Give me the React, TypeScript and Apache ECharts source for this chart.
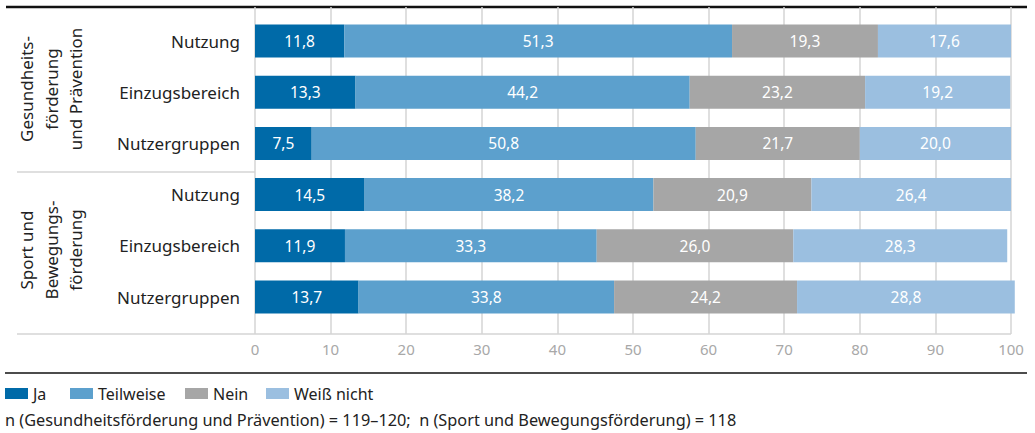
import React, { useEffect, useRef } from "react";
import * as echarts from "echarts";

const categories = ["Nutzung", "Einzugsbereich", "Nutzergruppen", "Nutzung", "Einzugsbereich", "Nutzergruppen"];
const groupLabels = ["Gesundheits-\nförderung\nund Prävention", "Sport und\nBewegungs-\nförderung"];
const seriesNames = ["Ja", "Teilweise", "Nein", "Weiß nicht"];
const ja = [11.8, 13.3, 7.5, 14.5, 11.9, 13.7];
const teilweise = [51.3, 44.2, 50.8, 38.2, 33.3, 33.8];
const nein = [19.3, 23.2, 21.7, 20.9, 26.0, 24.2];
const weissNicht = [17.6, 19.2, 20.0, 26.4, 28.3, 28.8];
const xTicks = [0, 10, 20, 30, 40, 50, 60, 70, 80, 90, 100];
const footnote = "n (Gesundheitsförderung und Prävention) = 119–120;  n (Sport und Bewegungsförderung) = 118";

const colors = ["#006aa8", "#5ca0cd", "#a6a6a6", "#9bbfe0"];
const FONT = "'Noto Sans', Roboto, sans-serif";

export default function App() {
  const ref = useRef<HTMLDivElement>(null);
  useEffect(() => {
    if (!ref.current) return;
    const chart = echarts.init(ref.current, null, { renderer: "svg" });
    const values = [ja, teilweise, nein, weissNicht];
    const ids = categories.map((_, i) => String(i));
    const series: any[] = seriesNames.map((name, si) => ({
      name,
      type: "bar",
      stack: "total",
      xAxisIndex: 1,
      yAxisIndex: 1,
      barWidth: 33,
      clip: false,
      itemStyle: { color: colors[si] },
      label: {
        show: true,
        position: "inside",
        color: "#ffffff",
        fontSize: 15.5,
        fontFamily: FONT,
        formatter: (p: any) => p.value.toFixed(1).replace(".", ","),
      },
      data: values[si],
    }));
    const legendX = [5, 70, 185, 266];
    const graphic: any[] = [
      { type: "line", shape: { x1: 6, y1: 7, x2: 1027, y2: 7 }, style: { stroke: "#111", lineWidth: 2.5 } },
      { type: "line", shape: { x1: 17, y1: 334, x2: 1011, y2: 334 }, style: { stroke: "#d4d4d4", lineWidth: 1.5 } },
      { type: "line", shape: { x1: 17, y1: 172, x2: 255, y2: 172 }, style: { stroke: "#d4d4d4", lineWidth: 1.5 } },
      { type: "line", shape: { x1: 5, y1: 373, x2: 1027, y2: 373 }, style: { stroke: "#111", lineWidth: 1.5 } },
      {
        type: "text", x: 51, y: 89, rotation: Math.PI / 2,
        style: { text: groupLabels[0], textAlign: "center", textVerticalAlign: "middle", fontSize: 17, lineHeight: 24.5, fontFamily: FONT, fill: "#222" },
      },
      {
        type: "text", x: 51, y: 250, rotation: Math.PI / 2,
        style: { text: groupLabels[1], textAlign: "center", textVerticalAlign: "middle", fontSize: 17, lineHeight: 24.5, fontFamily: FONT, fill: "#222" },
      },
      {
        type: "text", x: 5, y: 420,
        style: { text: footnote, textVerticalAlign: "middle", fontSize: 16.3, fontFamily: FONT, fill: "#222" },
      },
    ];
    seriesNames.forEach((name, i) => {
      graphic.push({ type: "rect", shape: { x: legendX[i], y: 388, width: 23, height: 11 }, style: { fill: colors[i] } });
      graphic.push({
        type: "text", x: legendX[i] + 28, y: 394,
        style: { text: name, textVerticalAlign: "middle", fontSize: 16, fontFamily: FONT, fill: "#222" },
      });
    });
    chart.setOption({
      animation: false,
      grid: [
        { left: 255, width: 756, top: 7, height: 327 },
        { left: 255, width: 756, top: 15.4, height: 307.2 },
      ],
      xAxis: [
        {
          gridIndex: 0, type: "value", min: 0, max: 100, interval: 10,
          axisLine: { show: false }, axisTick: { show: false },
          splitLine: { show: true, lineStyle: { color: "#d4d4d4", width: 1.5 } },
          axisLabel: { color: "#a8a8a8", fontSize: 15, fontFamily: FONT, margin: 7,
            formatter: (v: number) => (xTicks.indexOf(v) >= 0 ? String(v) : "") },
        },
        {
          gridIndex: 1, type: "value", min: 0, max: 100, show: false,
        },
      ],
      yAxis: [
        { gridIndex: 0, type: "category", data: ["a"], show: false },
        {
          gridIndex: 1, type: "category", data: ids, inverse: true,
          axisLine: { show: false }, axisTick: { show: false },
          axisLabel: { margin: 15, color: "#222", fontSize: 17, fontFamily: FONT,
            formatter: (v: string) => categories[Number(v)] },
        },
      ],
      series,
      graphic,
    });
    return () => chart.dispose();
  }, []);
  return <div ref={ref} style={{ position: "fixed", left: 0, top: 0, width: 1035, height: 433, background: "#fff" }} />;
}
